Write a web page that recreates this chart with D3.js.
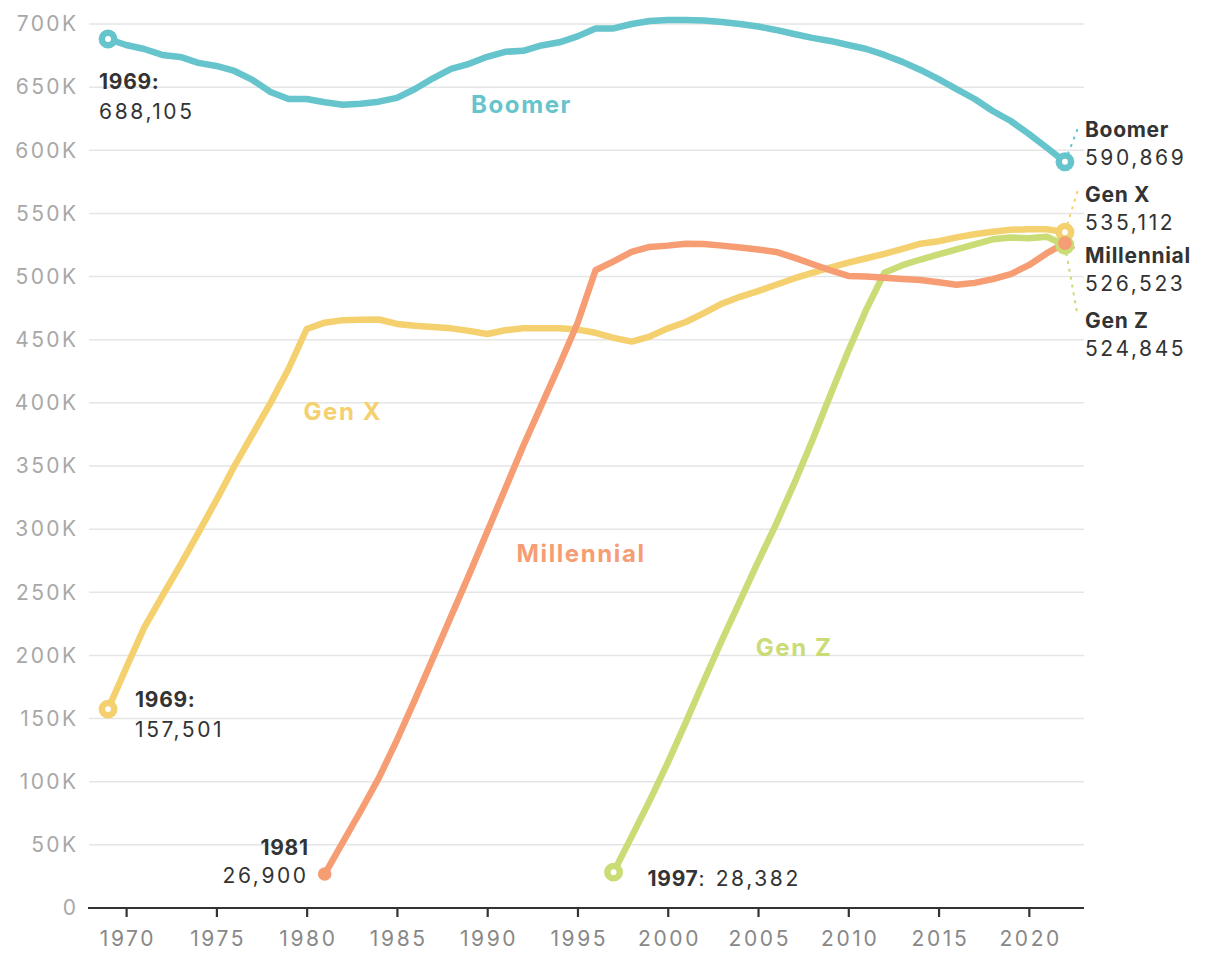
<!DOCTYPE html>
<html>
<head>
<meta charset="utf-8">
<script src="https://cdn.jsdelivr.net/npm/d3@7"></script>
<style>
  html, body { margin: 0; padding: 0; background: #fff; }
  svg { display: block; font-family: Inter, "Liberation Sans", sans-serif; }
</style>
</head>
<body>
<svg id="chart" width="1220" height="968"></svg>
<script>
// ---- data ----
const boomerYears = d3.range(1969, 2023);
const boomerValues = [688105, 683400, 680200, 675500, 673900, 669200, 666800, 662800, 655700, 646200,
  640600, 640600, 638000, 636000, 636800, 638500, 641500, 648500, 657000, 664500,
  668500, 674000, 678000, 678800, 683000, 685500, 690200, 696500, 696500, 700000,
  702400, 703200, 703200, 702800, 701600, 700000, 698000, 695300, 692100, 689000,
  686600, 683400, 680200, 675500, 670000, 663600, 656400, 648500, 640600, 631100,
  623200, 613000, 602000, 590869];

const genXYears = d3.range(1969, 2023);
const genXValues = [157501, 190000, 222000, 247000, 271500, 297000, 323000, 350000, 375000, 400000,
  427000, 458500, 463500, 465500, 465800, 466000, 462500, 461000, 460000, 459000,
  457000, 454500, 457500, 459000, 459000, 459000, 458000, 455500, 451500, 448500,
  452500, 459000, 464000, 471000, 478500, 484000, 488500, 493500, 498500, 503000,
  507000, 511000, 514500, 518000, 522000, 526000, 528000, 531000, 533500, 535500,
  537000, 537500, 537500, 535112];

const millennialYears = d3.range(1981, 2023);
const millennialValues = [26900, 52000, 77000, 103000, 133000, 165000, 198000, 231000, 264000, 298000,
  332000, 366000, 398000, 430000, 463000, 505000, 512000, 519500, 523500, 524500,
  526000, 525800, 524500, 523000, 521500, 519500, 515000, 510000, 505000, 500500,
  500000, 499000, 498000, 497300, 495500, 493500, 495000, 498000, 502000, 509000,
  518500, 526523];

const genZYears = d3.range(1997, 2023);
const genZValues = [28382, 56500, 85000, 115000, 147000, 180000, 212000, 243000, 274000, 304000,
  336000, 370000, 406000, 441000, 474000, 503000, 509000, 513500, 517500, 521500,
  525500, 529500, 531000, 530300, 531500, 524845];

const seriesNames = ["Boomer", "Gen X", "Millennial", "Gen Z"];
const yTickValues = d3.range(0, 700001, 50000);
const xTickValues = [1970, 1975, 1980, 1985, 1990, 1995, 2000, 2005, 2010, 2015, 2020];

// ---- styling ----
const colors = {
  "Boomer": "#66c4cc",
  "Gen X": "#f5d06f",
  "Millennial": "#f69d73",
  "Gen Z": "#c9dc76"
};
const FONT = "Inter, 'Liberation Sans', sans-serif";

const svg = d3.select("#chart");
const x = d3.scaleLinear().domain([1968, 2023]).range([90, 1083]);
const y = d3.scaleLinear().domain([0, 700000]).range([908, 24]);

// gridlines
svg.append("g")
  .selectAll("line")
  .data(yTickValues.filter(d => d > 0))
  .join("line")
  .attr("x1", 89).attr("x2", 1084)
  .attr("y1", d => y(d)).attr("y2", d => y(d))
  .attr("stroke", "#e5e5e5").attr("stroke-width", 1.5);

// y axis labels
const yAxis = d3.axisLeft(y).tickValues(yTickValues)
  .tickFormat(d => d === 0 ? "0" : (d / 1000) + "K").tickSize(0).tickPadding(0);
const gy = svg.append("g").attr("transform", "translate(78.5,0)").call(yAxis);
gy.select(".domain").remove();
gy.selectAll("text").attr("fill", "#a8a8a8").attr("font-size", 21)
  .attr("letter-spacing", 2.4).attr("font-family", FONT);

// x axis
const xAxis = d3.axisBottom(x).tickValues(xTickValues).tickFormat(d3.format("d")).tickSize(9).tickPadding(14);
const gx = svg.append("g").attr("transform", "translate(0,908)").call(xAxis);
gx.select(".domain").attr("d", "M88,0H1084").attr("stroke", "#333").attr("stroke-width", 2.2);
gx.selectAll(".tick line").attr("stroke", "#333").attr("stroke-width", 2.2);
gx.selectAll("text").attr("fill", "#888").attr("font-size", 21)
  .attr("letter-spacing", 2.6).attr("dx", 1.3).attr("font-family", FONT);

// lines
const seriesData = {
  "Boomer": boomerYears.map((yr, i) => ({ year: yr, value: boomerValues[i] })),
  "Gen X": genXYears.map((yr, i) => ({ year: yr, value: genXValues[i] })),
  "Millennial": millennialYears.map((yr, i) => ({ year: yr, value: millennialValues[i] })),
  "Gen Z": genZYears.map((yr, i) => ({ year: yr, value: genZValues[i] }))
};

const line = d3.line().x(d => x(d.year)).y(d => y(d.value)).curve(d3.curveLinear);
const drawOrder = ["Gen X", "Gen Z", "Millennial", "Boomer"];

// leader lines (dashed) for end labels
const leaders = [
  { name: "Boomer", dx: 13, ty: 128 },
  { name: "Gen X", dx: 13, ty: 190 },
  { name: "Millennial", dx: 13, ty: 250 },
  { name: "Gen Z", dx: 12, ty: 312 }
];
const gLead = svg.append("g");
leaders.forEach(l => {
  const arr = seriesData[l.name];
  const last = arr[arr.length - 1];
  const px = x(last.year), py = y(last.value);
  gLead.append("line")
    .attr("x1", px).attr("y1", py)
    .attr("x2", px + l.dx).attr("y2", l.ty)
    .attr("stroke", colors[l.name]).attr("stroke-width", 2)
    .attr("stroke-dasharray", "3,5");
});

const gLines = svg.append("g");
drawOrder.forEach(name => {
  gLines.append("path")
    .datum(seriesData[name])
    .attr("d", line)
    .attr("fill", "none")
    .attr("stroke", colors[name])
    .attr("stroke-width", 6.5)
    .attr("stroke-linejoin", "round")
    .attr("stroke-linecap", "round");
});

// markers
function ring(d, name) {
  svg.append("circle")
    .attr("cx", x(d.year)).attr("cy", y(d.value)).attr("r", 6.2)
    .attr("fill", "#fff").attr("stroke", colors[name]).attr("stroke-width", 6.5);
}
function dot(d, name) {
  svg.append("circle")
    .attr("cx", x(d.year)).attr("cy", y(d.value)).attr("r", 6.8)
    .attr("fill", colors[name]);
}
// start markers
ring(seriesData["Boomer"][0], "Boomer");
ring(seriesData["Gen X"][0], "Gen X");
dot(seriesData["Millennial"][0], "Millennial");
ring(seriesData["Gen Z"][0], "Gen Z");
// end markers
const lastOf = n => seriesData[n][seriesData[n].length - 1];
ring(lastOf("Gen X"), "Gen X");
ring(lastOf("Gen Z"), "Gen Z");
dot(lastOf("Millennial"), "Millennial");
ring(lastOf("Boomer"), "Boomer");

// inline series labels
const seriesLabelPos = [
  { name: "Boomer", year: 1991.9, value: 636000 },
  { name: "Gen X", year: 1982.0, value: 392800 },
  { name: "Millennial", year: 1995.2, value: 281000 },
  { name: "Gen Z", year: 2007.0, value: 206000 }
];
svg.append("g").selectAll("text")
  .data(seriesLabelPos).join("text")
  .attr("x", d => x(d.year)).attr("y", d => y(d.value))
  .attr("text-anchor", "middle")
  .attr("fill", d => colors[d.name])
  .attr("font-size", 24).attr("font-weight", 700)
  .attr("letter-spacing", 1.6)
  .attr("dy", "0.35em")
  .text(d => d.name);

// annotations
const annFont = 21;
function annot(xp, yp, bold, normal, anchor) {
  const t = svg.append("text").attr("x", xp).attr("y", yp)
    .attr("fill", "#333").attr("font-size", annFont).attr("text-anchor", anchor || "start");
  if (bold) t.append("tspan").attr("font-weight", 700).attr("letter-spacing", 0.7).text(bold);
  if (normal) t.append("tspan").attr("letter-spacing", 2.6).text(normal);
  return t;
}
const fmt = d3.format(",");
// start annotations
const b0 = seriesData["Boomer"][0];
annot(x(b0.year) - 9, y(b0.value) + 50, b0.year + ":", null);
annot(x(b0.year) - 9, y(b0.value) + 80, null, fmt(b0.value));
const g0 = seriesData["Gen X"][0];
annot(x(g0.year) + 27, y(g0.value) - 2, g0.year + ":", null);
annot(x(g0.year) + 27, y(g0.value) + 28, null, fmt(g0.value));
const m0 = seriesData["Millennial"][0];
annot(x(m0.year) - 16, y(m0.value) - 19, String(m0.year), null, "end");
annot(x(m0.year) - 16, y(m0.value) + 9, null, fmt(m0.value), "end");
const z0 = seriesData["Gen Z"][0];
annot(x(z0.year) + 34, y(z0.value) + 14, String(z0.year), ": " + fmt(z0.value));

// end labels
const endLabels = [
  { name: "Boomer", ty: 137 },
  { name: "Gen X", ty: 202 },
  { name: "Millennial", ty: 263 },
  { name: "Gen Z", ty: 328 }
];
endLabels.forEach(e => {
  annot(1085, e.ty, e.name, null);
  annot(1085, e.ty + 28, null, fmt(lastOf(e.name).value));
});
</script>
</body>
</html>
